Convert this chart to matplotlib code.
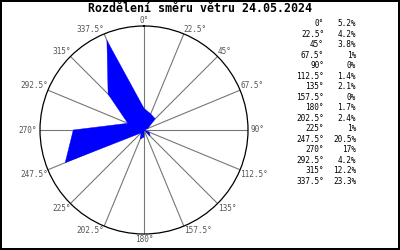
import numpy as np
import matplotlib
matplotlib.use("Agg")
import matplotlib.pyplot as plt

directions = [0, 22.5, 45, 67.5, 90, 112.5, 135, 157.5, 180, 202.5, 225, 247.5, 270, 292.5, 315, 337.5]
percent = [5.2, 4.2, 3.8, 1, 0, 1.4, 2.1, 0, 1.7, 2.4, 1, 20.5, 17, 4.2, 12.2, 23.3]
dir_labels = ["0°", "22.5°", "45°", "67.5°", "90°", "112.5°", "135°", "157.5°",
              "180°", "202.5°", "225°", "247.5°", "270°", "292.5°", "315°", "337.5°"]
pct_labels = ["5.2%", "4.2%", "3.8%", "1%", "0%", "1.4%", "2.1%", "0%",
              "1.7%", "2.4%", "1%", "20.5%", "17%", "4.2%", "12.2%", "23.3%"]
title = "Rozdělení směru větru 24.05.2024"

mono = "DejaVu Sans Mono"
fig = plt.figure(figsize=(4, 2.5), dpi=100)
fig.patch.set_edgecolor("black")
fig.patch.set_linewidth(1.5)

ax = fig.add_axes([0.1, 0.064, 0.52, 0.832], projection="polar")
ax.set_theta_zero_location("N")
ax.set_theta_direction(-1)
ax.set_ylim(0, 25)

theta = np.deg2rad(directions)
ax.fill(np.append(theta, theta[0]), np.append(percent, percent[0]),
        facecolor="#0000ff", edgecolor="#0000ff", linewidth=0.3, zorder=3)

ax.set_rgrids([])
ax.set_thetagrids(directions, [""] * len(directions))
ax.xaxis.grid(True, color="#777777", linewidth=0.8)
ax.spines["polar"].set_color("black")
ax.spines["polar"].set_linewidth(0.9)

# spoke labels just outside the circle
for d, lab in zip(directions, dir_labels):
    if d == 0:
        ha, va, off = "center", "bottom", (0, 1)
    elif d == 180:
        ha, va, off = "center", "top", (0, -1)
    elif d == 90:
        ha, va, off = "left", "center", (2, 0)
    elif d == 270:
        ha, va, off = "right", "center", (-2, 0)
    else:
        ha = "left" if d < 180 else "right"
        va = "bottom" if (d < 90 or d > 270) else "top"
        off = (0, 0)
    ax.annotate(lab, xy=(np.deg2rad(d), 25), xytext=off, textcoords="offset points",
                ha=ha, va=va, fontsize=5.6, family=mono, color="#555555",
                annotation_clip=False)

fig.text(0.5, 0.964, title, ha="center", va="center", fontsize=8.4,
         family=mono, fontweight="bold")

y0 = 1 - 24 / 250
dy = 10.47 / 250
for i in range(len(directions)):
    fig.text(324 / 400, y0 - i * dy, dir_labels[i], ha="right", va="center",
             fontsize=5.6, family=mono)
    fig.text(356 / 400, y0 - i * dy, pct_labels[i], ha="right", va="center",
             fontsize=5.6, family=mono)

fig.savefig("out.png", dpi=100, edgecolor=fig.get_edgecolor())
